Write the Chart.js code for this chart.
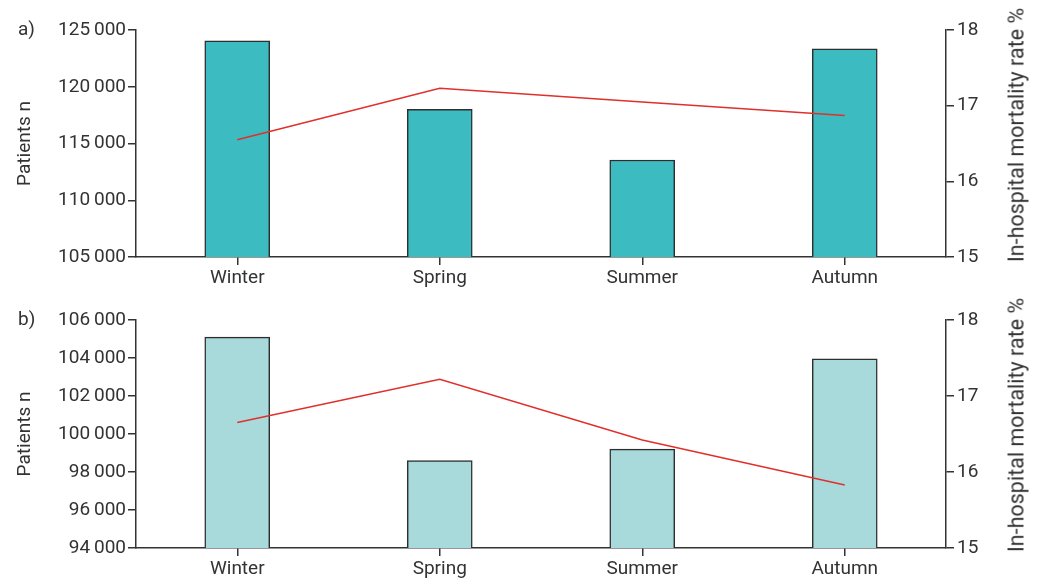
<!DOCTYPE html>
<html>
<head>
<meta charset="utf-8">
<script src="https://cdn.jsdelivr.net/npm/chart.js@4/dist/chart.umd.min.js"></script>
<style>
  body { margin: 0; background: #fff; font-family: Roboto, sans-serif; }
  .panel { position: relative; width: 1037px; height: 290px; }
  .tag { position: absolute; left: 18px; top: 17px; font-size: 19px; color: #333; }
  .rtitle { position: absolute; left: 1016px; top: 135px; font-size: 21.5px; color: #333;
            white-space: nowrap; transform: translate(-50%, -50%) rotate(-90deg); }
</style>
</head>
<body>
<div class="panel"><span class="tag">a)</span><canvas id="chartA"></canvas><span class="rtitle">In-hospital mortality rate %</span></div>
<div class="panel" style="height:291px"><span class="tag">b)</span><canvas id="chartB"></canvas><span class="rtitle">In-hospital mortality rate %</span></div>
<script>
// data
const seasons = ['Winter', 'Spring', 'Summer', 'Autumn'];
const patientsA = [124050, 118000, 113550, 123350];
const mortalityA = [16.55, 17.23, 17.05, 16.87];
const patientsB = [105100, 98600, 99200, 103950];
const mortalityB = [16.65, 17.22, 16.42, 15.83];
const ticksA = [105000, 110000, 115000, 120000, 125000];
const ticksB = [94000, 96000, 98000, 100000, 102000, 104000, 106000];
const rateTicks = [15, 16, 17, 18];

const ink = '#333333';
const tickFont = { family: 'Roboto', size: 19 };

function fmt(v) {
    return String(v).replace(/\B(?=(\d{3})+(?!\d))/g, '\u2009');
}

function makeChart(id, bars, rates, barColor, yTicks) {
    const ctx = document.getElementById(id).getContext('2d');
    return new Chart(ctx, {
        type: 'bar',
        data: {
            labels: seasons,
            datasets: [{
                type: 'line',
                data: rates,
                yAxisID: 'y1',
                borderColor: '#e0302c',
                borderWidth: 1.5,
                pointRadius: 0,
                tension: 0,
                order: 0
            }, {
                data: bars,
                yAxisID: 'y',
                backgroundColor: barColor,
                borderColor: '#2e2e2e',
                borderWidth: 1.5,
                barThickness: 65,
                order: 1
            }]
        },
        options: {
            responsive: false,
            animation: false,
            layout: { padding: { top: 30, left: 0, right: 0, bottom: 0 } },
            plugins: { legend: { display: false }, tooltip: { enabled: false } },
            scales: {
                x: {
                    offset: true,
                    grid: { offset: false, drawOnChartArea: false, drawTicks: true, tickLength: 8, color: ink, lineWidth: 1.5 },
                    border: { color: ink, width: 1.5 },
                    ticks: { color: ink, font: tickFont, padding: 2, maxRotation: 0 },
                    afterFit: (s) => { s.height = 33; }
                },
                y: {
                    position: 'left',
                    min: yTicks[0],
                    max: yTicks[yTicks.length - 1],
                    afterBuildTicks: (s) => { s.ticks = yTicks.map(v => ({ value: v })); },
                    grid: { drawOnChartArea: false, drawTicks: true, tickLength: 8, color: ink, lineWidth: 1.5 },
                    border: { color: ink, width: 1.5 },
                    ticks: { color: ink, font: tickFont, padding: 2, callback: (v) => fmt(v) },
                    title: { display: true, text: 'Patients n', color: ink, font: tickFont, padding: { top: 14, bottom: 0 } },
                    afterFit: (s) => { s.width = 136; }
                },
                y1: {
                    position: 'right',
                    min: rateTicks[0],
                    max: rateTicks[rateTicks.length - 1],
                    afterBuildTicks: (s) => { s.ticks = rateTicks.map(v => ({ value: v })); },
                    grid: { drawOnChartArea: false, drawTicks: true, tickLength: 8, color: ink, lineWidth: 1.5 },
                    border: { color: ink, width: 1.5 },
                    ticks: { color: ink, font: tickFont, padding: 3 },
                    afterFit: (s) => { s.width = 91; }
                }
            }
        }
    });
}

document.getElementById('chartA').width = 1037;
document.getElementById('chartA').height = 290;
document.getElementById('chartB').width = 1037;
document.getElementById('chartB').height = 291;

makeChart('chartA', patientsA, mortalityA, '#3cbcc0', ticksA);
makeChart('chartB', patientsB, mortalityB, '#a8dadc', ticksB);
</script>
</body>
</html>
